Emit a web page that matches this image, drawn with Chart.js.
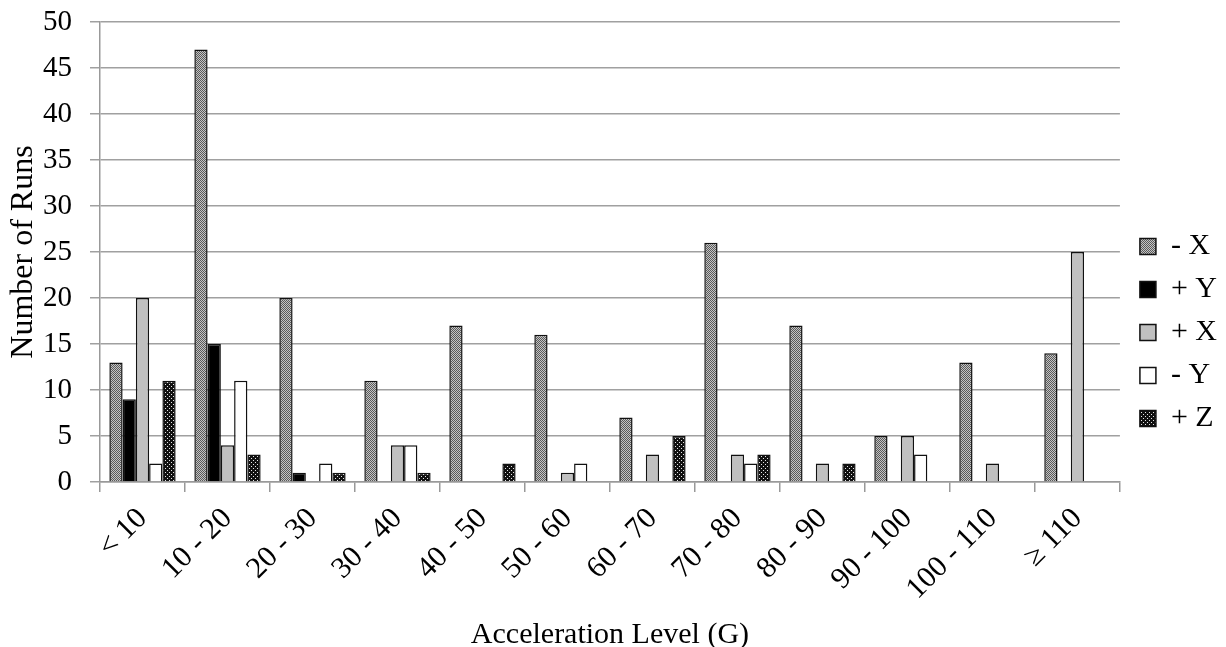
<!DOCTYPE html>
<html>
<head>
<meta charset="utf-8">
<script src="https://cdn.jsdelivr.net/npm/chart.js@4"></script>
<style>
html,body{margin:0;padding:0;background:#fff;}
#wrap{width:1226px;height:647px;}
</style>
</head>
<body>
<div id="wrap"><canvas id="c" width="1226" height="647"></canvas></div>
<script>
const categories = ['< 10','10 - 20','20 - 30','30 - 40','40 - 50','50 - 60','60 - 70','70 - 80','80 - 90','90 - 100','100 - 110','\u2265 110'];
const minusX = [13,47,20,11,17,16,7,26,17,5,13,14];
const plusY  = [9,15,1,0,0,0,0,0,0,0,0,0];
const plusX  = [20,4,0,4,0,1,3,3,2,5,2,25];
const minusY = [2,11,2,4,0,2,0,2,0,3,0,0];
const plusZ  = [11,3,1,1,2,0,5,3,2,0,0,0];
const seriesNames = ['- X','+ Y','+ X','- Y','+ Z'];
const yTicks = [0,5,10,15,20,25,30,35,40,45,50];

function makePattern(bg, fg, pts, size){
  const c = document.createElement('canvas');
  c.width = size; c.height = size;
  const g = c.getContext('2d');
  g.fillStyle = bg; g.fillRect(0,0,size,size);
  g.fillStyle = fg;
  pts.forEach(p => g.fillRect(p[0],p[1],1,1));
  return document.getElementById('c').getContext('2d').createPattern(c,'repeat');
}
const patMinusX = makePattern('#c4c4c4','#5a5a5a',[[0,0],[2,0],[1,1],[3,1],[0,2],[2,2],[1,3],[3,3]],4);
const patPlusZ  = makePattern('#111111','#e6e6e6',[[1,0],[3,2]],4);

const FONT = "'Liberation Serif', 'Times New Roman', serif";
const fills = [patMinusX,'#000000','#c0c0c0','#ffffff',patPlusZ];
const dataSets = [minusX, plusY, plusX, minusY, plusZ];

const shiftLegend = {
  id: 'shiftLegend',
  afterLayout(chart) {
    const lg = chart.legend;
    if (!lg) return;
    const dx = 7;
    lg.left += dx; lg.right += dx;
    if (lg.legendHitBoxes) lg.legendHitBoxes.forEach(b => { b.left += dx; });
  }
};

new Chart(document.getElementById('c'), {
  type: 'bar',
  data: {
    labels: categories,
    datasets: dataSets.map((d,i)=>({
      label: seriesNames[i],
      data: d,
      backgroundColor: fills[i],
      borderColor: '#111',
      borderWidth: 1.5,
      borderSkipped: 'bottom',
      categoryPercentage: 0.78,
      barPercentage: 1.0
    }))
  },
  options: {
    responsive: false,
    animation: false,
    devicePixelRatio: 1,
    layout: {padding: {top: 9, right: 6, left: 0, bottom: 0}},
    plugins: {
      legend: {
        position: 'right',
        title: {display: true, text: '', font: {size: 1}, padding: 4},
        labels: {
          font: {family: FONT, size: 30},
          color: '#000',
          boxWidth: 16,
          boxHeight: 16,
          padding: 13
        }
      },
      tooltip: {enabled: false}
    },
    scales: {
      x: {
        afterFit: (s) => { s.height = 165; },
        grid: {display: true, drawOnChartArea: false, drawTicks: true, tickLength: 10, color: '#999', lineWidth: 1.5},
        border: {color: '#999', width: 1.5},
        ticks: {font: {family: FONT, size: 30}, color: '#000', maxRotation: 45, minRotation: 45, padding: 9},
        title: {display: true, text: 'Acceleration Level (G)', font: {family: FONT, size: 30}, color: '#000', padding: {top: 0, bottom: -6}}
      },
      y: {
        min: 0, max: 50,
        afterFit: (s) => { s.width = 100; s.paddingTop = 22; s.paddingBottom = 0; },
        afterBuildTicks: (axis) => { axis.ticks = yTicks.map(v => ({value: v})); },
        grid: {color: '#a0a0a0', lineWidth: 1.5, tickLength: 10},
        border: {color: '#999', width: 1.5},
        ticks: {font: {family: FONT, size: 29}, color: '#000', padding: 18},
        title: {display: true, text: 'Number of Runs', font: {family: FONT, size: 32}, color: '#000', padding: {top: 4, bottom: 0}}
      }
    }
  },
  plugins: [shiftLegend]
});
</script>
</body>
</html>
